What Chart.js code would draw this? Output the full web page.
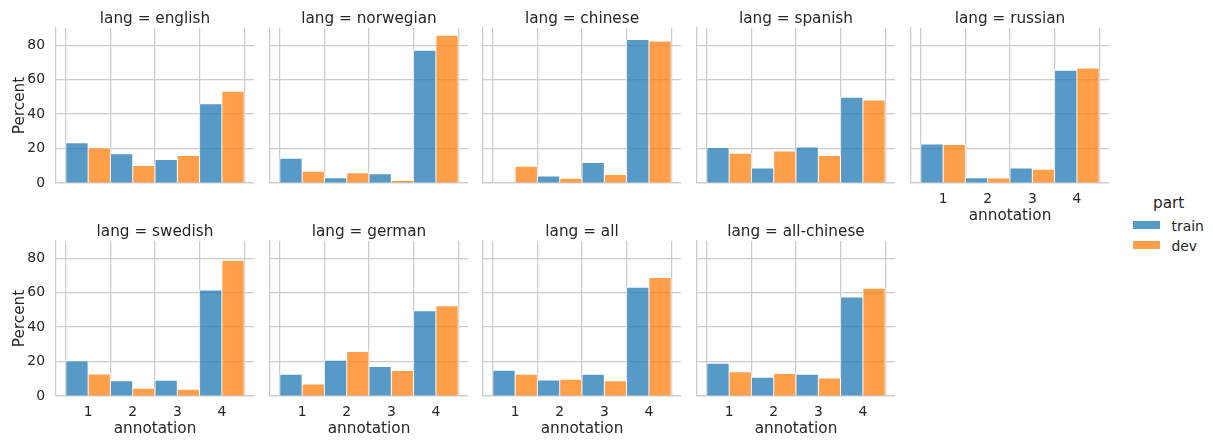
<!DOCTYPE html>
<html>
<head>
<meta charset="utf-8">
<title>Annotation distribution by language</title>
<script src="https://cdn.jsdelivr.net/npm/chart.js@4.4.1/dist/chart.umd.min.js"></script>
<style>
  html, body { margin: 0; padding: 0; background: #ffffff; }
  #figure {
    position: relative;
    width: 1213px;
    height: 441px;
    overflow: hidden;
    font-family: "DejaVu Sans", sans-serif;
    color: #262626;
  }
  #figure canvas { position: absolute; }
  .legend-title, .legend-label {
    position: absolute;
    white-space: nowrap;
    line-height: 1;
  }
  .legend-title { font-size: 15.28px; }
  .legend-label { font-size: 13.9px; }
  .legend-swatch { position: absolute; width: 27px; height: 7.5px; }
</style>
</head>
<body>
<div id="figure">
  <div class="legend-title" style="left:1153px; top:195.6px;">part</div>
  <div class="legend-swatch" style="left:1133px; top:221px; background:rgba(31,119,180,0.75);"></div>
  <div class="legend-label" style="left:1171.5px; top:219.7px;">train</div>
  <div class="legend-swatch" style="left:1133px; top:241px; background:rgba(255,127,14,0.75);"></div>
  <div class="legend-label" style="left:1171.5px; top:239.7px;">dev</div>
</div>
<script>
// Annotation levels on the x axis and the y tick values
const annotations = [1, 2, 3, 4];
const percentTicks = [0, 20, 40, 60, 80];

// Percent of items per annotation level, for the train and dev parts
const englishTrain    = [23.4, 17.0, 13.6, 46.0];
const englishDev      = [20.5, 10.2, 16.0, 53.3];
const norwegianTrain  = [14.4, 3.1, 5.4, 77.1];
const norwegianDev    = [6.8, 6.0, 1.4, 85.8];
const chineseTrain    = [0, 4.1, 11.9, 83.3];
const chineseDev      = [9.7, 2.7, 4.9, 82.5];
const spanishTrain    = [20.6, 8.7, 20.9, 49.8];
const spanishDev      = [17.3, 18.6, 15.9, 48.2];
const russianTrain    = [22.7, 3.1, 8.7, 65.5];
const russianDev      = [22.3, 2.9, 8.0, 66.8];
const swedishTrain    = [20.4, 8.9, 9.1, 61.6];
const swedishDev      = [12.8, 4.5, 3.9, 78.8];
const germanTrain     = [12.6, 20.8, 17.1, 49.5];
const germanDev       = [7.0, 25.8, 14.8, 52.4];
const allTrain        = [15.0, 9.3, 12.6, 63.1];
const allDev          = [12.6, 9.7, 8.9, 68.8];
const allChineseTrain = [19.0, 10.9, 12.6, 57.5];
const allChineseDev   = [14.0, 13.0, 10.5, 62.5];

// Facet order: five panels in the first row, four in the second
const facets = [
  { lang: 'english',     train: englishTrain,    dev: englishDev },
  { lang: 'norwegian',   train: norwegianTrain,  dev: norwegianDev },
  { lang: 'chinese',     train: chineseTrain,    dev: chineseDev },
  { lang: 'spanish',     train: spanishTrain,    dev: spanishDev },
  { lang: 'russian',     train: russianTrain,    dev: russianDev },
  { lang: 'swedish',     train: swedishTrain,    dev: swedishDev },
  { lang: 'german',      train: germanTrain,     dev: germanDev },
  { lang: 'all',         train: allTrain,        dev: allDev },
  { lang: 'all-chinese', train: allChineseTrain, dev: allChineseDev }
];

const TRAIN_COLOR = 'rgba(31,119,180,0.75)';
const DEV_COLOR = 'rgba(255,127,14,0.75)';
const GRID_COLOR = '#cccccc';
const TEXT_COLOR = '#262626';
const FONT = '"DejaVu Sans", sans-serif';
const LABEL_SIZE = 15.28;
const TICK_SIZE = 13.9;

Chart.defaults.font.family = FONT;
Chart.defaults.color = TEXT_COLOR;

// Panel layout (plot-area positions inside the figure)
const COLS = 5;
const colLeft = [56, 270, 483, 697, 911];
const rowTop = [28, 241];
const PLOT_W = 198, PLOT_H = 155;
// equal side margins keep each facet title centred over its plot area
const SIDE_MARGIN = 56, TOP_MARGIN = 28, BOTTOM_MARGIN = 46;

const figure = document.getElementById('figure');

facets.forEach((facet, idx) => {
  const row = Math.floor(idx / COLS);
  const col = idx % COLS;
  // x labels appear on the bottom row and where no panel sits below
  const showX = row === 1 || idx + COLS >= facets.length;
  const showY = col === 0;

  const canvas = document.createElement('canvas');
  const w = SIDE_MARGIN + PLOT_W + SIDE_MARGIN;
  const h = TOP_MARGIN + PLOT_H + BOTTOM_MARGIN;
  canvas.width = w;
  canvas.height = h;
  canvas.style.width = w + 'px';
  canvas.style.height = h + 'px';
  canvas.style.left = (colLeft[col] - SIDE_MARGIN) + 'px';
  canvas.style.top = (rowTop[row] - TOP_MARGIN) + 'px';
  figure.appendChild(canvas);

  // Dodged bars: train fills the left half of each level, dev the right half
  const trainPoints = annotations.map((a, i) => ({ x: a - 0.25, y: facet.train[i] }));
  const devPoints = annotations.map((a, i) => ({ x: a + 0.25, y: facet.dev[i] }));

  const barStyle = {
    grouped: false,
    categoryPercentage: 1,
    barPercentage: 1,
    borderColor: '#ffffff',
    borderWidth: 0.8
  };

  new Chart(canvas, {
    type: 'bar',
    data: {
      datasets: [
        Object.assign({ label: 'train', data: trainPoints, backgroundColor: TRAIN_COLOR }, barStyle),
        Object.assign({ label: 'dev', data: devPoints, backgroundColor: DEV_COLOR }, barStyle)
      ]
    },
    options: {
      responsive: false,
      animation: false,
      events: [],
      devicePixelRatio: 1,
      layout: { padding: 0 },
      plugins: {
        legend: { display: false },
        tooltip: { enabled: false },
        title: {
          display: true,
          text: 'lang = ' + facet.lang,
          color: TEXT_COLOR,
          font: { family: FONT, size: LABEL_SIZE, weight: 'normal', lineHeight: 1 },
          padding: { top: 11.56, bottom: 1.16 }
        }
      },
      scales: {
        x: {
          type: 'linear',
          min: 0.28,
          max: 4.72,
          offset: false,
          grid: { color: GRID_COLOR, lineWidth: 1.25, drawTicks: false },
          border: { display: true, color: GRID_COLOR, width: 1.25 },
          ticks: {
            display: showX,
            padding: 7.9,
            color: TEXT_COLOR,
            font: { family: FONT, size: TICK_SIZE },
            maxRotation: 0
          },
          title: {
            display: showX,
            text: 'annotation',
            color: TEXT_COLOR,
            font: { family: FONT, size: LABEL_SIZE },
            padding: { top: 0, bottom: 3.4 }
          },
          afterBuildTicks: (scale) => { scale.ticks = annotations.map(v => ({ value: v })); },
          afterFit: (scale) => { scale.height = BOTTOM_MARGIN; }
        },
        y: {
          type: 'linear',
          position: 'left',
          min: 0,
          max: 90,
          grid: { color: GRID_COLOR, lineWidth: 1.25, drawTicks: false },
          border: { display: true, color: GRID_COLOR, width: 1.25 },
          ticks: {
            display: showY,
            padding: 11,
            color: TEXT_COLOR,
            font: { family: FONT, size: TICK_SIZE }
          },
          title: {
            display: showY,
            text: 'Percent',
            color: TEXT_COLOR,
            font: { family: FONT, size: LABEL_SIZE },
            padding: { top: 10.6, bottom: 0 }
          },
          afterBuildTicks: (scale) => { scale.ticks = percentTicks.map(v => ({ value: v })); },
          afterFit: (scale) => { scale.width = SIDE_MARGIN; }
        },
        // empty spacer on the right, same width as the left axis
        spacer: {
          type: 'linear',
          position: 'right',
          display: true,
          grid: { display: false },
          border: { display: false },
          ticks: { display: false },
          title: { display: false },
          afterFit: (scale) => { scale.width = SIDE_MARGIN; }
        }
      }
    }
  });
});
</script>
</body>
</html>
